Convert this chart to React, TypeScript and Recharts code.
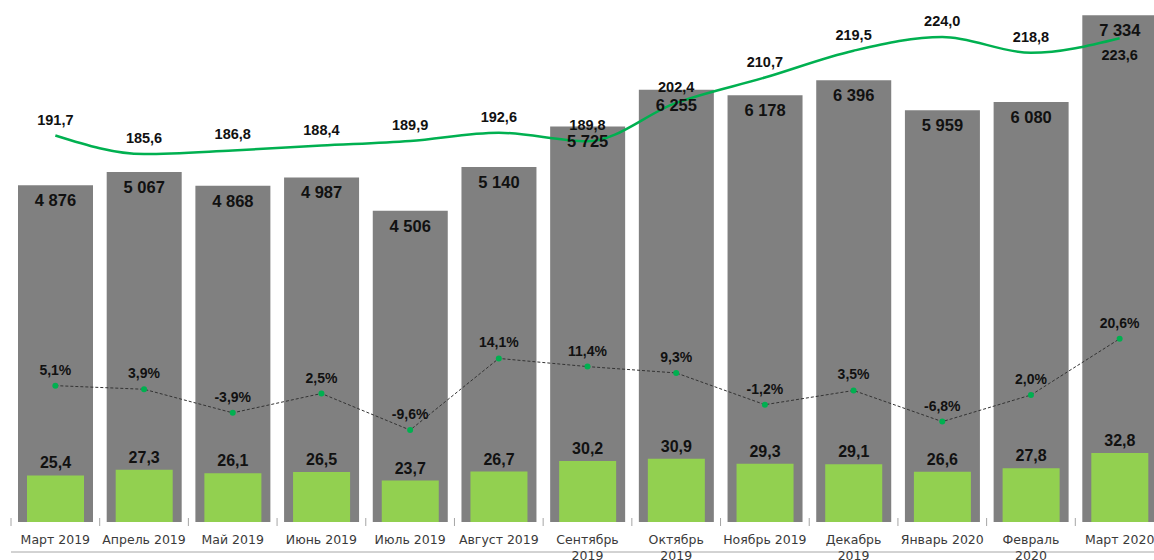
import React from 'react';
import { ComposedChart, Bar, Line, XAxis, YAxis, LabelList } from 'recharts';

// months on the category axis
const months = [
  'Март 2019', 'Апрель 2019', 'Май 2019', 'Июнь 2019', 'Июль 2019', 'Август 2019',
  'Сентябрь 2019', 'Октябрь 2019', 'Ноябрь 2019', 'Декабрь 2019', 'Январь 2020',
  'Февраль 2020', 'Март 2020',
];
// gray bars
const volume = [4876, 5067, 4868, 4987, 4506, 5140, 5725, 6255, 6178, 6396, 5959, 6080, 7334];
// light green bars
const avgCheck = [25.4, 27.3, 26.1, 26.5, 23.7, 26.7, 30.2, 30.9, 29.3, 29.1, 26.6, 27.8, 32.8];
// smooth green line
const priceIndex = [191.7, 185.6, 186.8, 188.4, 189.9, 192.6, 189.8, 202.4, 210.7, 219.5, 224.0, 218.8, 223.6];
// dashed line, %
const growth = [5.1, 3.9, -3.9, 2.5, -9.6, 14.1, 11.4, 9.3, -1.2, 3.5, -6.8, 2.0, 20.6];

const data = months.map((m, i) => ({
  month: m,
  volume: volume[i],
  avgCheck: avgCheck[i],
  priceIndex: priceIndex[i],
  growth: growth[i],
}));

const W = 1160;
const H = 552;
const MARGIN = { top: 0, right: 4, left: 3, bottom: 0 };
const AXIS_H = 38;
const AXIS_Y = H - AXIS_H;
const BAND = (W - MARGIN.left - MARGIN.right) / months.length;

const VALUE_FONT = '"Liberation Sans", Arial, sans-serif';
const AXIS_FONT = '"DejaVu Sans", Verdana, sans-serif';

const fmtInt = (v: number) => String(v).replace(/\B(?=(\d{3})+(?!\d))/g, ' ');
const fmtDec = (v: number) => v.toFixed(1).replace('.', ',');

const pos = (p: any) => {
  const vb = p.viewBox || {};
  return {
    x: Number(vb.x ?? p.x),
    y: Number(vb.y ?? p.y),
    width: Number(vb.width ?? p.width ?? 0),
  };
};

const VolumeLabel = (p: any) => {
  const { x, y, width } = pos(p);
  return (
    <text x={x + width / 2} y={y + 15} textAnchor="middle" dominantBaseline="central"
      fontFamily={VALUE_FONT} fontWeight="bold" fontSize={16.5} fill="#111">
      {fmtInt(Number(p.value))}
    </text>
  );
};

const AvgLabel = (p: any) => {
  const { x, y, width } = pos(p);
  return (
    <text x={x + width / 2} y={y - 12.5} textAnchor="middle" dominantBaseline="central"
      fontFamily={VALUE_FONT} fontWeight="bold" fontSize={16} fill="#111">
      {fmtDec(Number(p.value))}
    </text>
  );
};

const IndexLabel = (p: any) => {
  const { x, y } = pos(p);
  const below = p.index === months.length - 1;
  return (
    <text x={x} y={below ? y + 17 : y - 16} textAnchor="middle" dominantBaseline="central"
      fontFamily={VALUE_FONT} fontWeight="bold" fontSize={14.5} fill="#111">
      {fmtDec(Number(p.value))}
    </text>
  );
};

const GrowthLabel = (p: any) => {
  const { x, y } = pos(p);
  return (
    <text x={x} y={y - 16} textAnchor="middle" dominantBaseline="central"
      fontFamily={VALUE_FONT} fontWeight="bold" fontSize={14} fill="#111">
      {fmtDec(Number(p.value)) + '%'}
    </text>
  );
};

const MonthTick = (p: any) => {
  const label: string = p.payload.value;
  const lines = label.length >= 12 ? label.split(' ') : [label];
  const left = p.x - BAND / 2;
  return (
    <g>
      <line x1={left} x2={left} y1={AXIS_Y - 4} y2={AXIS_Y + 4} stroke="#A6A6A6" strokeWidth={1} />
      <text textAnchor="middle" fontFamily={AXIS_FONT} fontSize={12.5} fill="#3a3a3a">
        {lines.map((l, i) => (
          <tspan key={i} x={p.x} y={AXIS_Y + 17.5 + i * 16} dominantBaseline="central">{l}</tspan>
        ))}
      </text>
    </g>
  );
};

export default function App() {
  return (
    // fixed frame the size of the window: the chart runs past the right edge like the original
    <div style={{ position: 'fixed', left: 0, top: 0, width: 1154, height: 560, overflow: 'hidden', background: '#fff' }}>
      <div style={{ position: 'absolute', left: 8, top: 8 }}>
        <ComposedChart width={W} height={H} data={data} margin={MARGIN}>
          <XAxis xAxisId="main" dataKey="month" height={AXIS_H} interval={0}
            tickLine={false} axisLine={{ stroke: '#A6A6A6' }} tick={<MonthTick />} />
          <XAxis xAxisId="inner" dataKey="month" hide />
          <YAxis yAxisId="vol" hide domain={[0, 7440]} allowDataOverflow />
          <YAxis yAxisId="avg" hide domain={[10, 180]} allowDataOverflow />
          <YAxis yAxisId="idx" hide domain={[65, 233.5]} allowDataOverflow />
          <YAxis yAxisId="pct" hide domain={[-40, 130]} allowDataOverflow />

          <Bar xAxisId="main" yAxisId="vol" dataKey="volume" fill="#808080" barSize={75}
            isAnimationActive={false}>
            <LabelList dataKey="volume" content={VolumeLabel} />
          </Bar>
          <Bar xAxisId="inner" yAxisId="avg" dataKey="avgCheck" fill="#92D050" barSize={57}
            isAnimationActive={false}>
            <LabelList dataKey="avgCheck" content={AvgLabel} />
          </Bar>
          <Line xAxisId="main" yAxisId="idx" dataKey="priceIndex" type="monotone"
            stroke="#00B050" strokeWidth={2.5} dot={false} isAnimationActive={false}>
            <LabelList dataKey="priceIndex" content={IndexLabel} />
          </Line>
          <Line xAxisId="main" yAxisId="pct" dataKey="growth" type="linear"
            stroke="#333" strokeWidth={1} strokeDasharray="3 2"
            dot={{ r: 3, fill: '#00B050', stroke: 'none' }} isAnimationActive={false}>
            <LabelList dataKey="growth" content={GrowthLabel} />
          </Line>
        </ComposedChart>
      </div>
    </div>
  );
}
